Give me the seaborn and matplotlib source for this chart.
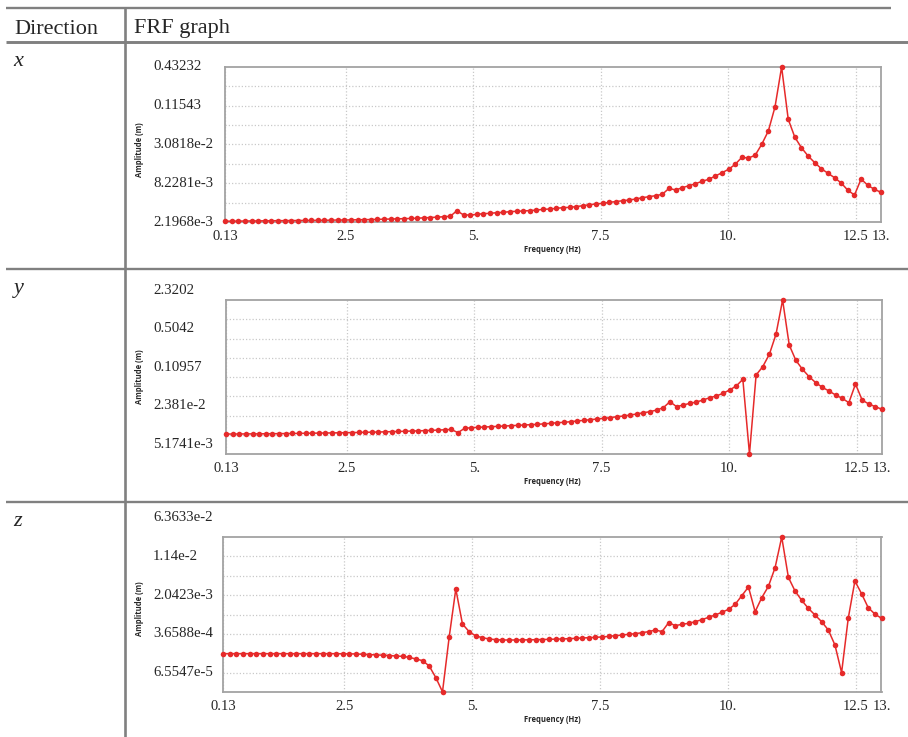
import numpy as np
import matplotlib
matplotlib.use("Agg")
import matplotlib.pyplot as plt
import seaborn as sns
from matplotlib.lines import Line2D
from matplotlib import transforms
from matplotlib.ticker import NullLocator

# ---------------- data ----------------
freq = np.round(np.arange(1, 101) * 0.13, 2)   # 0.13 ... 13.0 Hz

amp_x = [
    2.26e-3, 2.26e-3, 2.27e-3, 2.27e-3, 2.28e-3, 2.28e-3, 2.29e-3, 2.29e-3, 2.30e-3, 2.30e-3,
    2.31e-3, 2.31e-3, 2.32e-3, 2.32e-3, 2.33e-3, 2.33e-3, 2.34e-3, 2.35e-3, 2.35e-3, 2.36e-3,
    2.37e-3, 2.38e-3, 2.39e-3, 2.40e-3, 2.42e-3, 2.43e-3, 2.45e-3, 2.46e-3, 2.48e-3, 2.50e-3,
    2.53e-3, 2.56e-3, 2.59e-3, 2.63e-3, 2.67e-3, 3.23e-3, 2.79e-3, 2.79e-3, 2.85e-3, 2.92e-3,
    2.95e-3, 3.02e-3, 3.05e-3, 3.13e-3, 3.16e-3, 3.20e-3, 3.24e-3, 3.30e-3, 3.38e-3, 3.42e-3,
    3.50e-3, 3.58e-3, 3.62e-3, 3.71e-3, 3.83e-3, 3.96e-3, 4.06e-3, 4.15e-3, 4.30e-3, 4.40e-3,
    4.54e-3, 4.65e-3, 4.81e-3, 5.03e-3, 5.21e-3, 5.39e-3, 5.64e-3, 6.92e-3, 6.53e-3, 7.06e-3,
    7.56e-3, 8.09e-3, 8.79e-3, 9.41e-3, 1.052e-2, 1.178e-2, 1.323e-2, 1.570e-2, 1.99e-2, 1.945e-2,
    2.13e-2, 3.10e-2, 4.89e-2, 0.1106, 0.4323, 7.28e-2, 3.94e-2, 2.76e-2, 2.08e-2, 1.66e-2,
    1.35e-2, 1.155e-2, 9.93e-3, 8.29e-3, 6.47e-3, 5.51e-3, 9.51e-3, 7.67e-3, 6.70e-3, 6.04e-3,
]

amp_y = [
    7.80e-3, 7.80e-3, 7.82e-3, 7.83e-3, 7.85e-3, 7.86e-3, 7.88e-3, 7.90e-3, 7.92e-3, 7.95e-3,
    7.97e-3, 8.00e-3, 8.03e-3, 8.06e-3, 8.09e-3, 8.12e-3, 8.15e-3, 8.19e-3, 8.22e-3, 8.26e-3,
    8.30e-3, 8.35e-3, 8.40e-3, 8.45e-3, 8.51e-3, 8.57e-3, 8.63e-3, 8.70e-3, 8.77e-3, 8.85e-3,
    8.93e-3, 9.02e-3, 9.12e-3, 9.23e-3, 9.35e-3, 8.23e-3, 9.77e-3, 1.003e-2, 1.016e-2, 1.030e-2,
    1.043e-2, 1.057e-2, 1.071e-2, 1.086e-2, 1.100e-2, 1.115e-2, 1.130e-2, 1.145e-2, 1.168e-2, 1.191e-2,
    1.223e-2, 1.239e-2, 1.273e-2, 1.307e-2, 1.342e-2, 1.377e-2, 1.414e-2, 1.453e-2, 1.491e-2, 1.552e-2,
    1.593e-2, 1.658e-2, 1.725e-2, 1.818e-2, 1.891e-2, 2.021e-2, 2.216e-2, 2.812e-2, 2.306e-2, 2.464e-2,
    2.633e-2, 2.776e-2, 3.004e-2, 3.295e-2, 3.521e-2, 3.914e-2, 4.467e-2, 5.234e-2, 6.818e-2, 3.53e-3,
    8.095e-2, 0.1126, 0.1837, 0.4061, 1.584, 0.2660, 0.1448, 0.1014, 7.578e-2, 5.974e-2,
    4.964e-2, 4.293e-2, 3.664e-2, 3.210e-2, 2.703e-2, 5.665e-2, 3.004e-2, 2.563e-2, 2.306e-2, 2.075e-2,
]

amp_z = [
    1.52e-4, 1.52e-4, 1.52e-4, 1.52e-4, 1.52e-4, 1.52e-4, 1.52e-4, 1.52e-4, 1.52e-4, 1.52e-4,
    1.52e-4, 1.52e-4, 1.52e-4, 1.52e-4, 1.52e-4, 1.52e-4, 1.52e-4, 1.52e-4, 1.51e-4, 1.51e-4,
    1.50e-4, 1.48e-4, 1.46e-4, 1.44e-4, 1.42e-4, 1.40e-4, 1.37e-4, 1.35e-4, 1.29e-4, 1.20e-4,
    1.115e-4, 8.8e-5, 5.24e-5, 2.80e-5, 3.14e-4, 2.68e-3, 5.67e-4, 4.04e-4, 3.33e-4, 3.09e-4,
    2.92e-4, 2.83e-4, 2.79e-4, 2.79e-4, 2.79e-4, 2.80e-4, 2.81e-4, 2.83e-4, 2.85e-4, 2.87e-4,
    2.90e-4, 2.92e-4, 2.96e-4, 3.00e-4, 3.05e-4, 3.09e-4, 3.14e-4, 3.19e-4, 3.28e-4, 3.38e-4,
    3.48e-4, 3.59e-4, 3.69e-4, 3.86e-4, 4.04e-4, 4.35e-4, 4.04e-4, 6.02e-4, 5.27e-4, 5.59e-4,
    5.84e-4, 6.29e-4, 6.87e-4, 7.62e-4, 8.46e-4, 9.52e-4, 1.087e-3, 1.357e-3, 1.994e-3, 2.929e-3,
    9.80e-4, 1.825e-3, 3.018e-3, 6.907e-3, 2.69e-2, 4.498e-3, 2.453e-3, 1.622e-3, 1.136e-3, 8.46e-4,
    6.29e-4, 4.35e-4, 2.234e-4, 6.55e-5, 7.30e-4, 3.824e-3, 2.180e-3, 1.171e-3, 8.84e-4, 7.30e-4,
]

directions = ["x", "y", "z"]
amps = [amp_x, amp_y, amp_z]

ytick_labels_x = ["0.43232", "0.11543", "3.0818e-2", "8.2281e-3", "2.1968e-3"]
ytick_labels_y = ["2.3202", "0.5042", "0.10957", "2.381e-2", "5.1741e-3"]
ytick_labels_z = ["6.3633e-2", "1.14e-2", "2.0423e-3", "3.6588e-4", "6.5547e-5"]
ytick_labels = [ytick_labels_x, ytick_labels_y, ytick_labels_z]

# axis ranges (bottom, top) of each log-scaled panel
ylims = [(2.1968e-3, 0.43232), (3.532e-3, 1.584), (2.774e-5, 2.693e-2)]

xtick_values = [0.13, 2.5, 5, 7.5, 10, 12.5, 13]
xtick_labels = ["0.13", "2.5", "5.", "7.5", "10.", "12.5", "13."]

header = ["Direction", "FRF graph"]

# ---------------- layout (pixels) ----------------
W, H = 908, 737
sns.set_style("white")
plt.rcParams["font.family"] = ["Liberation Serif", "DejaVu Serif"]

fig = plt.figure(figsize=(W / 100, H / 100), dpi=100)


def fx(x):
    return x / W


def fy(y):
    return 1 - y / H


rule_color = "#808080"


def hline(y, x0, x1, lw=1.7):
    fig.add_artist(Line2D([fx(x0), fx(x1)], [fy(y), fy(y)], transform=fig.transFigure,
                          color=rule_color, lw=lw, solid_capstyle="butt"))


def vline(x, y0, y1, lw=1.9):
    fig.add_artist(Line2D([fx(x), fx(x)], [fy(y0), fy(y1)], transform=fig.transFigure,
                          color=rule_color, lw=lw, solid_capstyle="butt"))


hline(8.3, 6, 891)
hline(42.3, 6, 908, lw=2.1)
hline(269.3, 6, 908)
hline(501.7, 6, 908)
vline(125.3, 8, 737)

fig.text(fx(14), fy(33.5), header[0], fontsize=16, va="baseline", ha="left")
fig.text(fx(133.5), fy(33.5), header[1], fontsize=16, va="baseline", ha="left")

row_tops = [42.3, 269.3, 501.7]
panels = [
    dict(left=225, right=881, top=67, bottom=222, ylab=150),
    dict(left=226, right=882, top=300, bottom=454, ylab=376.5),
    dict(left=223, right=881.5, top=537, bottom=692, ylab=608.5),
]

line_color = "#e62a2a"

for i, (d, amp, labels, ylim, p) in enumerate(zip(directions, amps, ytick_labels, ylims, panels)):
    fig.text(fx(13.5), fy(row_tops[i] + 24), d, fontsize=16, style="italic",
             va="baseline", ha="left")

    ax = fig.add_axes([fx(p["left"]), fy(p["bottom"]),
                       (p["right"] - p["left"]) / W, (p["bottom"] - p["top"]) / H])
    ax.set_yscale("log")
    sns.lineplot(x=freq, y=amp, ax=ax, color=line_color, marker="o", markersize=4.0,
                 markeredgewidth=0, linewidth=1.1, zorder=3)
    for ln in ax.lines:
        ln.set_clip_on(False)

    ax.set_xlim(0.13, 13)
    ax.set_ylim(*ylim)

    # grid: 8 equal log divisions
    lo, hi = np.log10(ylim[0]), np.log10(ylim[1])
    grid_y = 10 ** np.linspace(lo, hi, 9)[1:-1]
    ax.set_yticks(grid_y)
    ax.set_yticklabels([])
    ax.yaxis.set_minor_locator(NullLocator())
    ax.set_xticks(xtick_values)
    ax.set_xticklabels(xtick_labels, fontsize=10.5)
    ax.xaxis.set_minor_locator(NullLocator())
    ax.tick_params(length=0, axis="x", pad=5.5)
    ax.tick_params(length=0, axis="y")
    ax.grid(True, which="major", color="#c9c9c9", linestyle=(0, (1, 1.6)), linewidth=0.9)
    ax.set_xlabel("")
    ax.set_ylabel("")
    for s in ax.spines.values():
        s.set_color("#a3a3a3")
        s.set_linewidth(1.3)
        s.set_visible(True)

    # amplitude labels, equally spaced in log space
    step = (hi - lo) / 4.0
    if i == 0:
        top_label = hi
    elif i == 1:
        top_label = hi + 0.25 * step
    else:
        top_label = hi + 0.5 * step
    tr = transforms.blended_transform_factory(fig.transFigure, ax.transData)
    for j, lab in enumerate(labels):
        ax.text(fx(153), 10 ** (top_label - j * step), lab, transform=tr, fontsize=10.7,
                ha="left", va="center", clip_on=False)

    fig.text(fx(139), fy(p["ylab"]), "Amplitude (m)", rotation=90, ha="center", va="center",
             family=["Open Sans", "DejaVu Sans"], fontweight="bold", fontsize=5.5)
    fig.text(fx(552), fy(p["bottom"] + 28), "Frequency (Hz)", ha="center", va="center",
             family=["Open Sans", "DejaVu Sans"], fontweight="bold", fontsize=5.5)

fig.savefig("out.png", dpi=100)
